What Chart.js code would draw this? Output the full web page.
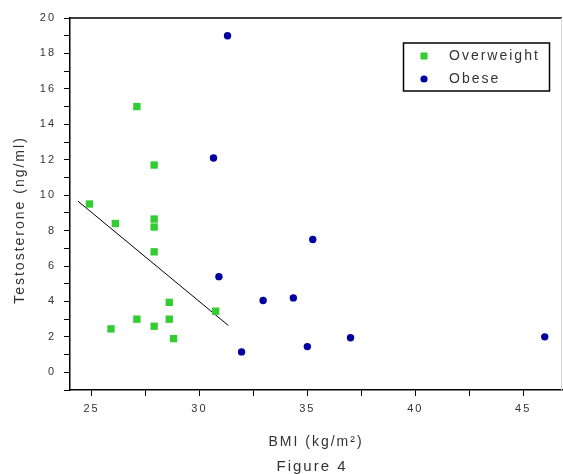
<!DOCTYPE html>
<html>
<head>
<meta charset="utf-8">
<script src="https://cdn.jsdelivr.net/npm/chart.js@4.4.1/dist/chart.umd.min.js"></script>
<style>
  html, body { margin: 0; padding: 0; background: #fff; }
  #wrap { width: 563px; height: 474px; }
</style>
</head>
<body>
<div id="wrap"><canvas id="chart" width="563" height="474"></canvas></div>
<script>
// Overweight group (BMI, testosterone)
const overweightBmi = [24.9, 26.1, 27.1, 27.9, 27.9, 27.9, 27.9, 28.6, 28.6, 28.8, 27.9, 27.1, 25.9, 30.75];
const overweightTesto = [9.5, 8.4, 15.0, 11.7, 8.65, 8.2, 6.8, 3.95, 3.0, 1.9, 2.6, 3.0, 2.45, 3.45];

// Obese group
const obeseBmi = [31.3, 30.65, 30.9, 32.95, 31.95, 35.25, 34.35, 35.0, 37.0, 46.0];
const obeseTesto = [19.0, 12.1, 5.4, 4.05, 1.15, 7.5, 4.2, 1.45, 1.95, 2.0];

// linear fit drawn over the overweight group
const fitBmi = [24.37, 31.34];
const fitTesto = [9.66, 2.64];

const seriesNames = ['Overweight', 'Obese'];
const xTitle = 'BMI (kg/m\u00b2)';
const yTitle = 'Testosterone (ng/ml)';
const caption = 'Figure 4';

const green = '#33cc33';
const blue = '#0000a0';
const textColor = '#333';
const fontFamily = '"Liberation Sans", Arial, sans-serif';

function toPoints(xs, ys) {
  return xs.map((x, i) => ({ x: x, y: ys[i] }));
}

// extra drawing: frame, y title, legend box, caption
const extras = {
  id: 'extras',
  beforeLayout(chart) { chart.ctx.letterSpacing = '2px'; },
  beforeDraw(chart) { chart.ctx.letterSpacing = '2px'; },
  afterDraw(chart) {
    const ctx = chart.ctx;
    const a = chart.chartArea;
    ctx.save();
    ctx.letterSpacing = '2px';

    // top and right frame
    ctx.strokeStyle = '#000';
    ctx.lineWidth = 1.5;
    ctx.beginPath();
    ctx.moveTo(a.left, a.top);
    ctx.lineTo(a.right, a.top);
    ctx.stroke();
    ctx.strokeStyle = '#d4d4d4';
    ctx.lineWidth = 1;
    ctx.beginPath();
    ctx.moveTo(a.right - 0.5, a.top);
    ctx.lineTo(a.right - 0.5, a.bottom);
    ctx.stroke();

    ctx.fillStyle = textColor;
    ctx.font = '14px ' + fontFamily;
    ctx.textAlign = 'center';
    ctx.textBaseline = 'middle';

    // y axis title
    ctx.save();
    ctx.translate(20, 220);
    ctx.rotate(-Math.PI / 2);
    ctx.fillText(yTitle, 0, 0);
    ctx.restore();

    // caption under the axis title
    ctx.font = '15px ' + fontFamily;
    ctx.fillText(caption, 312, 467);

    // legend
    ctx.strokeStyle = '#000';
    ctx.lineWidth = 1.5;
    ctx.strokeRect(403.5, 43, 146, 48);
    ctx.fillStyle = green;
    ctx.fillRect(420.5, 52.5, 7, 7);
    ctx.fillStyle = blue;
    ctx.beginPath();
    ctx.arc(424, 79, 3.6, 0, Math.PI * 2);
    ctx.fill();
    ctx.fillStyle = textColor;
    ctx.font = '14px ' + fontFamily;
    ctx.textAlign = 'left';
    ctx.fillText(seriesNames[0], 449, 56);
    ctx.fillText(seriesNames[1], 449, 79);

    ctx.restore();
  }
};

const ctx = document.getElementById('chart').getContext('2d');

new Chart(ctx, {
  type: 'scatter',
  data: {
    datasets: [
      {
        label: seriesNames[0],
        data: toPoints(overweightBmi, overweightTesto),
        pointStyle: 'rect',
        pointRadius: 5.2,
        backgroundColor: green,
        borderColor: green,
        borderWidth: 0,
        order: 1
      },
      {
        label: seriesNames[1],
        data: toPoints(obeseBmi, obeseTesto),
        pointStyle: 'circle',
        pointRadius: 3.7,
        backgroundColor: blue,
        borderColor: blue,
        borderWidth: 0,
        order: 1
      },
      {
        label: 'fit',
        data: toPoints(fitBmi, fitTesto),
        showLine: true,
        pointRadius: 0,
        borderColor: '#000',
        borderWidth: 1,
        order: 2
      }
    ]
  },
  options: {
    responsive: false,
    animation: false,
    layout: { autoPadding: false, padding: { top: 18, right: 1, left: 0, bottom: 0 } },
    plugins: {
      legend: { display: false },
      tooltip: { enabled: false }
    },
    scales: {
      x: {
        type: 'linear',
        position: 'bottom',
        min: 24,
        max: 46.8,
        afterFit(scale) {
          scale.height = 84;
          scale.paddingLeft = 0;
          scale.paddingRight = 0;
        },
        ticks: {
          stepSize: 2.5,
          includeBounds: false,
          autoSkip: false,
          maxRotation: 0,
          padding: 6,
          color: textColor,
          font: { family: fontFamily, size: 11 },
          callback: v => (v % 5 === 0 ? v : '')
        },
        grid: { drawOnChartArea: false, drawTicks: true, tickLength: 6, color: '#000', lineWidth: 1 },
        border: { color: '#000', width: 1.5 },
        title: {
          display: true,
          text: xTitle,
          color: textColor,
          font: { family: fontFamily, size: 14 },
          padding: { top: 0, bottom: 23 }
        }
      },
      y: {
        min: -1,
        max: 20,
        afterFit(scale) { scale.width = 70; },
        ticks: {
          stepSize: 1,
          autoSkip: false,
          padding: 8,
          color: textColor,
          font: { family: fontFamily, size: 11 },
          callback: v => (v % 2 === 0 ? v : '')
        },
        grid: { drawOnChartArea: false, drawTicks: true, tickLength: 6, color: '#000', lineWidth: 1 },
        border: { color: '#000', width: 1.5 }
      }
    }
  },
  plugins: [extras]
});
</script>
</body>
</html>
